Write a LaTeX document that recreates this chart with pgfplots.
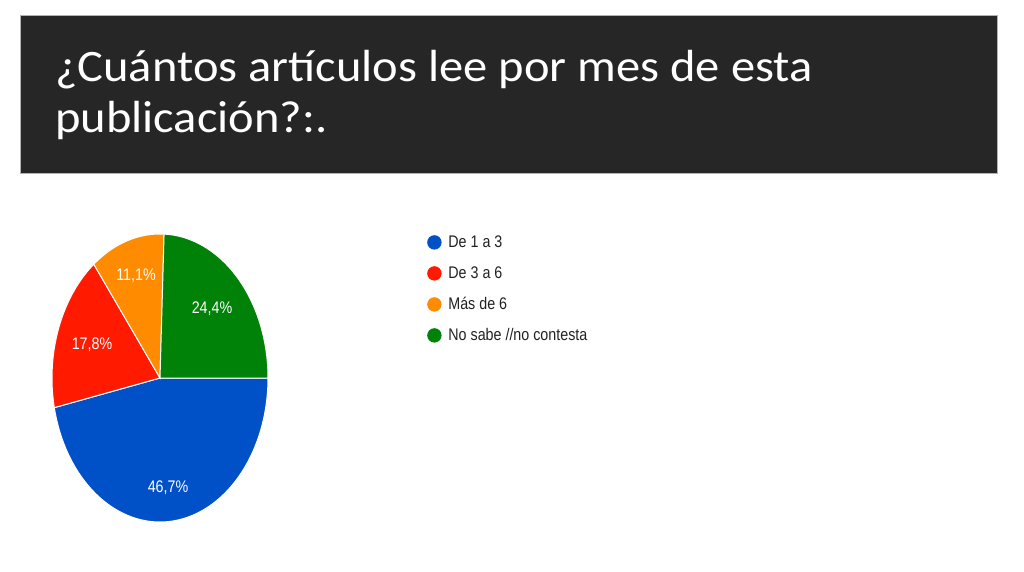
\documentclass[border=0pt]{standalone}
\usepackage{pgfplots}
\pgfplotsset{compat=1.18}
\usepackage{graphicx}
\usepackage{fontspec}
\setmainfont{Liberation Sans}
\newfontfamily\titlefont{Carlito}
\definecolor{cblue}{HTML}{0050C8}
\definecolor{cred}{HTML}{FF1A00}
\definecolor{corange}{HTML}{FF8C00}
\definecolor{cgreen}{HTML}{008208}
\definecolor{barcol}{HTML}{262626}
\definecolor{legtext}{HTML}{222222}
\newcommand{\sq}[1]{\scalebox{0.85}[1]{#1}}
\newcommand{\tq}[1]{\scalebox{1.078}[1]{#1}}
\begin{document}
\begin{tikzpicture}
\begin{axis}[
  width=1024pt, height=572pt, scale only axis,
  xmin=0, xmax=1024, ymin=0, ymax=572, y dir=reverse,
  hide axis, clip=false,
  legend style={at={(axis cs:424,233)}, anchor=north west, draw=none, fill=none,
    font=\fontsize{16.8}{19}\selectfont, text=legtext,
    row sep=15.8pt, column sep=0pt,
    nodes={inner sep=0pt, text height=12pt, text depth=3pt, anchor=base west}},
  legend cell align=left,
  legend image code/.code={\path[#1,draw=none] (7pt,5pt) circle (7.2pt); \path (20.5pt,0pt);},
]
% background and title bar
\fill[white] (axis cs:0,0) rectangle (axis cs:1024,572);
\filldraw[fill=barcol, draw=gray!60, line width=0.8pt] (axis cs:20,15) rectangle (axis cs:997,173);
\node[anchor=base west, text=white, inner sep=0pt, font=\titlefont\fontsize{45}{52}\selectfont]
  at (axis cs:55,82) {\tq{¿Cuántos artículos lee por mes de esta}};
\node[anchor=base west, text=white, inner sep=0pt, font=\titlefont\fontsize{45}{52}\selectfont]
  at (axis cs:55,133) {\tq{publicación?:.}};

% pie slices: percentages 46.7, 17.8, 11.1, 24.4 (angle = 3.6 * percent), clockwise from 3 o'clock
\addplot[fill=cblue, draw=white, line width=1pt, domain=-168.12:0, samples=90, variable=\t]
  ({160+108*cos(\t)}, {378-144*sin(\t)}) -- (axis cs:160,378) -- cycle;
\addlegendentry{\sq{De 1 a 3}}
\addplot[fill=cred, draw=white, line width=1pt, domain=-232.2:-168.12, samples=40, variable=\t]
  ({160+108*cos(\t)}, {378-144*sin(\t)}) -- (axis cs:160,378) -- cycle;
\addlegendentry{\sq{De 3 a 6}}
\addplot[fill=corange, draw=white, line width=1pt, domain=-272.16:-232.2, samples=30, variable=\t]
  ({160+108*cos(\t)}, {378-144*sin(\t)}) -- (axis cs:160,378) -- cycle;
\addlegendentry{\sq{Más de 6}}
\addplot[fill=cgreen, draw=white, line width=1pt, domain=-360:-272.16, samples=50, variable=\t]
  ({160+108*cos(\t)}, {378-144*sin(\t)}) -- (axis cs:160,378) -- cycle;
\addlegendentry{\sq{No sabe //no contesta}}

% slice labels
\node[text=white, font=\fontsize{16.8}{19}\selectfont] at (axis cs:168,488) {\sq{46,7\%}};
\node[text=white, font=\fontsize{16.8}{19}\selectfont] at (axis cs:92,345) {\sq{17,8\%}};
\node[text=white, font=\fontsize{16.8}{19}\selectfont] at (axis cs:136,276) {\sq{11,1\%}};
\node[text=white, font=\fontsize{16.8}{19}\selectfont] at (axis cs:212,309) {\sq{24,4\%}};
\end{axis}
\end{tikzpicture}
\end{document}
